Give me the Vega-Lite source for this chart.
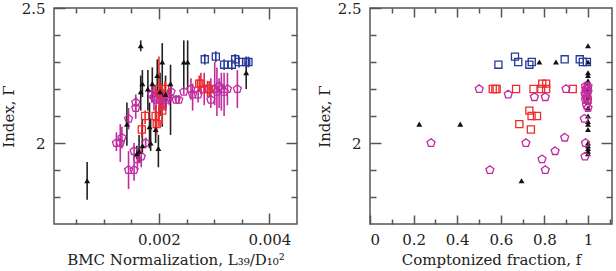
{
  "$schema": "https://vega.github.io/schema/vega-lite/v6.json",
  "padding": {"left": 0, "top": 0, "right": 0, "bottom": 0},
  "background": "white",
  "spacing": 73,
  "bounds": "flush",
  "config": {
    "view": {"stroke": "#555", "strokeWidth": 1.5},
    "font": "DejaVu Serif",
    "axis": {"labelFont": "DejaVu Serif", "titleFont": "DejaVu Serif", "labelFontSize": 15, "titleFontSize": 15, "titleFontWeight": "normal", "labelColor": "#222", "titleColor": "#222", "tickColor": "#555", "tickWidth": 1.5, "domain": false, "grid": false}
  },
  "datasets": {
    "left": [
      {"s": "tri", "x": 0.00070, "g": 1.86, "lo": 1.79, "hi": 1.93},
      {"s": "tri", "x": 0.00167, "g": 2.36, "lo": 2.34, "hi": 2.38},
      {"s": "tri", "x": 0.00142, "g": 2.07, "lo": 1.99, "hi": 2.15},
      {"s": "tri", "x": 0.00160, "g": 1.96, "lo": 1.94, "hi": 1.99},
      {"s": "tri", "x": 0.00164, "g": 1.97, "lo": 1.93, "hi": 2.03},
      {"s": "tri", "x": 0.00170, "g": 1.99, "lo": 1.96, "hi": 2.09},
      {"s": "tri", "x": 0.00167, "g": 2.19, "lo": 2.12, "hi": 2.25},
      {"s": "tri", "x": 0.00170, "g": 2.22, "lo": 2.17, "hi": 2.27},
      {"s": "tri", "x": 0.00180, "g": 2.20, "lo": 2.12, "hi": 2.27},
      {"s": "tri", "x": 0.00183, "g": 2.06, "lo": 1.98, "hi": 2.15},
      {"s": "tri", "x": 0.00185, "g": 2.00, "lo": 1.97, "hi": 2.09},
      {"s": "tri", "x": 0.00188, "g": 2.22, "lo": 2.15, "hi": 2.28},
      {"s": "tri", "x": 0.00194, "g": 2.05, "lo": 2.00, "hi": 2.12},
      {"s": "tri", "x": 0.00197, "g": 2.25, "lo": 2.18, "hi": 2.31},
      {"s": "tri", "x": 0.00199, "g": 1.98, "lo": 1.91, "hi": 2.03},
      {"s": "tri", "x": 0.00202, "g": 2.19, "lo": 2.10, "hi": 2.26},
      {"s": "tri", "x": 0.00206, "g": 2.30, "lo": 2.06, "hi": 2.37},
      {"s": "tri", "x": 0.00212, "g": 2.18, "lo": 2.12, "hi": 2.25},
      {"s": "tri", "x": 0.00221, "g": 2.22, "lo": 2.03, "hi": 2.29},
      {"s": "tri", "x": 0.00245, "g": 2.30, "lo": 2.20, "hi": 2.38},
      {"s": "tri", "x": 0.00252, "g": 2.30, "lo": 2.20, "hi": 2.38},
      {"s": "tri", "x": 0.00358, "g": 2.26, "lo": 2.20, "hi": 2.30},
      {"s": "mag", "x": 0.00123, "g": 2.00, "lo": 1.97, "hi": 2.04},
      {"s": "mag", "x": 0.00130, "g": 2.00, "lo": 1.93, "hi": 2.07},
      {"s": "mag", "x": 0.00133, "g": 2.02, "lo": 1.98, "hi": 2.06},
      {"s": "mag", "x": 0.00145, "g": 2.09, "lo": 2.05, "hi": 2.13},
      {"s": "mag", "x": 0.00145, "g": 1.90, "lo": 1.83, "hi": 1.97},
      {"s": "mag", "x": 0.00155, "g": 1.90, "lo": 1.86, "hi": 1.94},
      {"s": "mag", "x": 0.00155, "g": 1.97, "lo": 1.94, "hi": 2.00},
      {"s": "mag", "x": 0.00158, "g": 2.15, "lo": 2.12, "hi": 2.18},
      {"s": "mag", "x": 0.00158, "g": 2.13, "lo": 2.09, "hi": 2.17},
      {"s": "mag", "x": 0.00161, "g": 1.94, "lo": 1.90, "hi": 1.98},
      {"s": "mag", "x": 0.00168, "g": 1.95, "lo": 1.91, "hi": 1.98},
      {"s": "mag", "x": 0.00176, "g": 2.00, "lo": 1.98, "hi": 2.02},
      {"s": "mag", "x": 0.00187, "g": 2.18, "lo": 2.15, "hi": 2.21},
      {"s": "mag", "x": 0.00191, "g": 2.17, "lo": 2.12, "hi": 2.21},
      {"s": "mag", "x": 0.00195, "g": 2.16, "lo": 2.11, "hi": 2.20},
      {"s": "mag", "x": 0.00203, "g": 2.16, "lo": 2.12, "hi": 2.19},
      {"s": "mag", "x": 0.00209, "g": 2.16, "lo": 2.12, "hi": 2.20},
      {"s": "mag", "x": 0.00213, "g": 2.16, "lo": 2.13, "hi": 2.19},
      {"s": "mag", "x": 0.00219, "g": 2.17, "lo": 2.14, "hi": 2.20},
      {"s": "mag", "x": 0.00222, "g": 2.19, "lo": 2.16, "hi": 2.21},
      {"s": "mag", "x": 0.00231, "g": 2.16, "lo": 2.15, "hi": 2.17},
      {"s": "mag", "x": 0.00236, "g": 2.16, "lo": 2.15, "hi": 2.17},
      {"s": "mag", "x": 0.00245, "g": 2.19, "lo": 2.18, "hi": 2.20},
      {"s": "mag", "x": 0.00258, "g": 2.20, "lo": 2.16, "hi": 2.24},
      {"s": "mag", "x": 0.00261, "g": 2.18, "lo": 2.12, "hi": 2.22},
      {"s": "mag", "x": 0.00271, "g": 2.18, "lo": 2.15, "hi": 2.21},
      {"s": "mag", "x": 0.00282, "g": 2.20, "lo": 2.14, "hi": 2.26},
      {"s": "mag", "x": 0.00294, "g": 2.16, "lo": 2.13, "hi": 2.24},
      {"s": "mag", "x": 0.00301, "g": 2.20, "lo": 2.14, "hi": 2.30},
      {"s": "mag", "x": 0.00305, "g": 2.19, "lo": 2.10, "hi": 2.28},
      {"s": "mag", "x": 0.00309, "g": 2.21, "lo": 2.13, "hi": 2.24},
      {"s": "mag", "x": 0.00313, "g": 2.20, "lo": 2.12, "hi": 2.26},
      {"s": "mag", "x": 0.00318, "g": 2.19, "lo": 2.10, "hi": 2.26},
      {"s": "mag", "x": 0.00324, "g": 2.20, "lo": 2.14, "hi": 2.26},
      {"s": "mag", "x": 0.00342, "g": 2.20, "lo": 2.13, "hi": 2.27},
      {"s": "red", "x": 0.00169, "g": 2.05, "lo": 2.02, "hi": 2.08},
      {"s": "red", "x": 0.00175, "g": 2.10, "lo": 2.07, "hi": 2.12},
      {"s": "red", "x": 0.00194, "g": 2.10, "lo": 2.06, "hi": 2.14},
      {"s": "red", "x": 0.00196, "g": 2.07, "lo": 2.03, "hi": 2.11},
      {"s": "red", "x": 0.00200, "g": 2.20, "lo": 2.06, "hi": 2.32},
      {"s": "red", "x": 0.00204, "g": 2.18, "lo": 2.12, "hi": 2.22},
      {"s": "red", "x": 0.00206, "g": 2.12, "lo": 2.07, "hi": 2.17},
      {"s": "red", "x": 0.00211, "g": 2.20, "lo": 2.17, "hi": 2.23},
      {"s": "red", "x": 0.00273, "g": 2.22, "lo": 2.19, "hi": 2.25},
      {"s": "red", "x": 0.00276, "g": 2.22, "lo": 2.18, "hi": 2.26},
      {"s": "red", "x": 0.00288, "g": 2.20, "lo": 2.17, "hi": 2.23},
      {"s": "red", "x": 0.00291, "g": 2.20, "lo": 2.17, "hi": 2.23},
      {"s": "blue", "x": 0.00283, "g": 2.31, "lo": 2.29, "hi": 2.33},
      {"s": "blue", "x": 0.00303, "g": 2.32, "lo": 2.30, "hi": 2.34},
      {"s": "blue", "x": 0.00318, "g": 2.29, "lo": 2.27, "hi": 2.31},
      {"s": "blue", "x": 0.00332, "g": 2.29, "lo": 2.27, "hi": 2.31},
      {"s": "blue", "x": 0.00338, "g": 2.31, "lo": 2.29, "hi": 2.33},
      {"s": "blue", "x": 0.00345, "g": 2.30, "lo": 2.28, "hi": 2.32},
      {"s": "blue", "x": 0.00358, "g": 2.30, "lo": 2.28, "hi": 2.32},
      {"s": "blue", "x": 0.00362, "g": 2.30, "lo": 2.28, "hi": 2.32}
    ],
    "right": [
      {"s": "tri", "f": 0.226, "g": 2.07}, {"s": "tri", "f": 0.414, "g": 2.07}, {"s": "tri", "f": 0.695, "g": 1.86},
      {"s": "tri", "f": 0.777, "g": 2.30}, {"s": "tri", "f": 0.853, "g": 2.30},
      {"s": "tri", "f": 1.0, "g": 2.36}, {"s": "tri", "f": 1.0, "g": 2.30}, {"s": "tri", "f": 1.0, "g": 2.26},
      {"s": "tri", "f": 1.0, "g": 2.25}, {"s": "tri", "f": 1.0, "g": 2.23}, {"s": "tri", "f": 1.0, "g": 2.22},
      {"s": "tri", "f": 1.0, "g": 2.20}, {"s": "tri", "f": 1.0, "g": 2.19}, {"s": "tri", "f": 1.0, "g": 2.17},
      {"s": "tri", "f": 1.0, "g": 2.15}, {"s": "tri", "f": 1.0, "g": 2.13}, {"s": "tri", "f": 1.0, "g": 2.10},
      {"s": "tri", "f": 1.0, "g": 2.08}, {"s": "tri", "f": 1.0, "g": 2.07}, {"s": "tri", "f": 1.0, "g": 2.05},
      {"s": "tri", "f": 1.0, "g": 2.00}, {"s": "tri", "f": 1.0, "g": 1.99}, {"s": "tri", "f": 1.0, "g": 1.98},
      {"s": "tri", "f": 1.0, "g": 1.97}, {"s": "tri", "f": 1.0, "g": 1.96},
      {"s": "blue", "f": 0.589, "g": 2.29}, {"s": "blue", "f": 0.665, "g": 2.32}, {"s": "blue", "f": 0.680, "g": 2.30},
      {"s": "blue", "f": 0.731, "g": 2.29}, {"s": "blue", "f": 0.742, "g": 2.30}, {"s": "blue", "f": 0.893, "g": 2.31},
      {"s": "blue", "f": 0.962, "g": 2.31}, {"s": "blue", "f": 0.976, "g": 2.30}, {"s": "blue", "f": 0.995, "g": 2.30},
      {"s": "red", "f": 0.563, "g": 2.20}, {"s": "red", "f": 0.575, "g": 2.20}, {"s": "red", "f": 0.581, "g": 2.20},
      {"s": "red", "f": 0.670, "g": 2.20}, {"s": "red", "f": 0.750, "g": 2.20}, {"s": "red", "f": 0.785, "g": 2.20},
      {"s": "red", "f": 0.790, "g": 2.22}, {"s": "red", "f": 0.808, "g": 2.22}, {"s": "red", "f": 0.808, "g": 2.20},
      {"s": "red", "f": 0.930, "g": 2.20}, {"s": "red", "f": 0.731, "g": 2.12}, {"s": "red", "f": 0.741, "g": 2.10},
      {"s": "red", "f": 0.766, "g": 2.10}, {"s": "red", "f": 0.685, "g": 2.07}, {"s": "red", "f": 0.738, "g": 2.05},
      {"s": "red", "f": 0.998, "g": 2.16},
      {"s": "mag", "f": 0.501, "g": 2.20}, {"s": "mag", "f": 0.634, "g": 2.18}, {"s": "mag", "f": 0.754, "g": 2.17},
      {"s": "mag", "f": 0.804, "g": 2.17}, {"s": "mag", "f": 0.899, "g": 2.20}, {"s": "mag", "f": 0.280, "g": 2.00},
      {"s": "mag", "f": 0.550, "g": 1.90}, {"s": "mag", "f": 0.715, "g": 2.00}, {"s": "mag", "f": 0.893, "g": 2.02},
      {"s": "mag", "f": 0.849, "g": 1.97}, {"s": "mag", "f": 0.789, "g": 1.94}, {"s": "mag", "f": 0.804, "g": 1.90},
      {"s": "mag", "f": 0.986, "g": 1.95}, {"s": "mag", "f": 0.988, "g": 2.00}, {"s": "mag", "f": 0.983, "g": 2.09},
      {"s": "mag", "f": 0.988, "g": 2.21}, {"s": "mag", "f": 0.998, "g": 2.20}, {"s": "mag", "f": 0.990, "g": 2.19},
      {"s": "mag", "f": 1.000, "g": 2.19}, {"s": "mag", "f": 0.993, "g": 2.17}, {"s": "mag", "f": 0.988, "g": 2.16},
      {"s": "mag", "f": 0.998, "g": 2.16}, {"s": "mag", "f": 0.993, "g": 2.14}, {"s": "mag", "f": 1.000, "g": 2.13},
      {"s": "mag", "f": 0.990, "g": 2.20}, {"s": "mag", "f": 1.000, "g": 2.21}, {"s": "mag", "f": 0.986, "g": 2.18}
    ]
  },
  "hconcat": [
    {
      "width": 243,
      "height": 216,
      "data": {"name": "left"},
      "resolve": {"axis": {"x": "independent", "y": "independent"}},
      "layer": [
        {
          "mark": {"type": "rule", "strokeWidth": 1.6},
          "encoding": {
            "x": {"field": "x", "type": "quantitative", "scale": {"domain": [0.0001, 0.0045], "nice": false, "zero": false},
              "axis": {"orient": "bottom", "values": [0.002, 0.004], "format": "~g", "tickSize": -11, "labelPadding": 19, "title": "BMC Normalization, L₃₉/D₁₀²", "titlePadding": 5}},
            "y": {"field": "lo", "type": "quantitative", "scale": {"domain": [1.7, 2.5], "nice": false, "zero": false},
              "axis": {"orient": "left", "values": [2, 2.5], "format": "~g", "tickSize": -11, "labelPadding": 20, "title": "Index, Γ", "titlePadding": 5}},
            "y2": {"field": "hi"},
            "color": {"field": "s", "type": "nominal", "scale": {"domain": ["tri", "mag", "red", "blue"], "range": ["#222222", "#c02ca0", "#ee2a2a", "#27389a"]}, "legend": null}
          }
        },
        {
          "transform": [{"filter": "datum.s == 'mag'"}],
          "mark": {"type": "point", "shape": "M0,-1L0.951,-0.309L0.588,0.809L-0.588,0.809L-0.951,-0.309Z", "filled": false, "size": 70, "strokeWidth": 1.3, "color": "#c02ca0", "opacity": 1},
          "encoding": {
            "x": {"field": "x", "type": "quantitative", "axis": {"orient": "bottom", "values": [0.0005, 0.001, 0.0015, 0.0025, 0.003, 0.0035], "labels": false, "tickSize": -5, "title": null}},
            "y": {"field": "g", "type": "quantitative", "axis": {"orient": "left", "values": [1.8, 1.9, 2.1, 2.2, 2.3, 2.4], "labels": false, "tickSize": -6, "title": null}}
          }
        },
        {
          "transform": [{"filter": "datum.s == 'red' || datum.s == 'blue'"}],
          "mark": {"type": "point", "shape": "square", "filled": false, "size": 50, "strokeWidth": 1.3, "opacity": 1},
          "encoding": {
            "x": {"field": "x", "type": "quantitative", "axis": {"orient": "top", "values": [0.002, 0.004], "labels": false, "tickSize": -11, "title": null}},
            "y": {"field": "g", "type": "quantitative", "axis": {"orient": "right", "values": [2], "labels": false, "tickSize": -11, "title": null}},
            "color": {"field": "s", "type": "nominal", "legend": null}
          }
        },
        {
          "transform": [{"filter": "datum.s == 'tri'"}],
          "mark": {"type": "point", "shape": "triangle-up", "filled": true, "size": 35, "color": "#111111", "opacity": 1},
          "encoding": {
            "x": {"field": "x", "type": "quantitative", "axis": {"orient": "top", "values": [0.0005, 0.001, 0.0015, 0.0025, 0.003, 0.0035], "labels": false, "tickSize": -5, "title": null}},
            "y": {"field": "g", "type": "quantitative", "axis": {"orient": "right", "values": [1.8, 1.9, 2.1, 2.2, 2.3, 2.4], "labels": false, "tickSize": -6, "title": null}}
          }
        }
      ]
    },
    {
      "width": 242,
      "height": 216,
      "data": {"name": "right"},
      "resolve": {"axis": {"x": "independent", "y": "independent"}},
      "layer": [
        {
          "transform": [{"filter": "datum.s == 'tri'"}],
          "mark": {"type": "point", "shape": "triangle-up", "filled": true, "size": 35, "color": "#111111", "opacity": 1},
          "encoding": {
            "x": {"field": "f", "type": "quantitative", "scale": {"domain": [0, 1.11], "nice": false, "zero": false},
              "axis": {"orient": "bottom", "values": [0, 0.2, 0.4, 0.6, 0.8, 1], "format": "~g", "tickSize": -9, "labelPadding": 17, "title": "Comptonized fraction, f", "titlePadding": 5}},
            "y": {"field": "g", "type": "quantitative", "scale": {"domain": [1.7, 2.5], "nice": false, "zero": false},
              "axis": {"orient": "left", "values": [2, 2.5], "format": "~g", "tickSize": -11, "labelPadding": 20, "title": "Index, Γ", "titlePadding": 5}}
          }
        },
        {
          "transform": [{"filter": "datum.s == 'red' || datum.s == 'blue'"}],
          "mark": {"type": "point", "shape": "square", "filled": false, "size": 50, "strokeWidth": 1.3, "opacity": 1},
          "encoding": {
            "x": {"field": "f", "type": "quantitative", "axis": {"orient": "bottom", "values": [0.1, 0.3, 0.5, 0.7, 0.9, 1.1], "labels": false, "tickSize": -5, "title": null}},
            "y": {"field": "g", "type": "quantitative", "axis": {"orient": "left", "values": [1.8, 1.9, 2.1, 2.2, 2.3, 2.4], "labels": false, "tickSize": -6, "title": null}},
            "color": {"field": "s", "type": "nominal", "scale": {"domain": ["tri", "mag", "red", "blue"], "range": ["#222222", "#c02ca0", "#ee2a2a", "#27389a"]}, "legend": null}
          }
        },
        {
          "transform": [{"filter": "datum.s == 'mag'"}],
          "mark": {"type": "point", "shape": "M0,-1L0.951,-0.309L0.588,0.809L-0.588,0.809L-0.951,-0.309Z", "filled": false, "size": 70, "strokeWidth": 1.3, "color": "#c02ca0", "opacity": 1},
          "encoding": {
            "x": {"field": "f", "type": "quantitative", "axis": {"orient": "top", "values": [0.2, 0.4, 0.6, 0.8, 1], "labels": false, "tickSize": -9, "title": null}},
            "y": {"field": "g", "type": "quantitative", "axis": {"orient": "right", "values": [2], "labels": false, "tickSize": -11, "title": null}}
          }
        },
        {
          "transform": [{"filter": "datum.s == 'tri'"}],
          "mark": {"type": "point", "shape": "triangle-up", "filled": true, "size": 35, "opacity": 0},
          "encoding": {
            "x": {"field": "f", "type": "quantitative", "axis": {"orient": "top", "values": [0.1, 0.3, 0.5, 0.7, 0.9], "labels": false, "tickSize": -5, "title": null}},
            "y": {"field": "g", "type": "quantitative", "axis": {"orient": "right", "values": [1.8, 1.9, 2.1, 2.2, 2.3, 2.4], "labels": false, "tickSize": -6, "title": null}}
          }
        }
      ]
    }
  ]
}
